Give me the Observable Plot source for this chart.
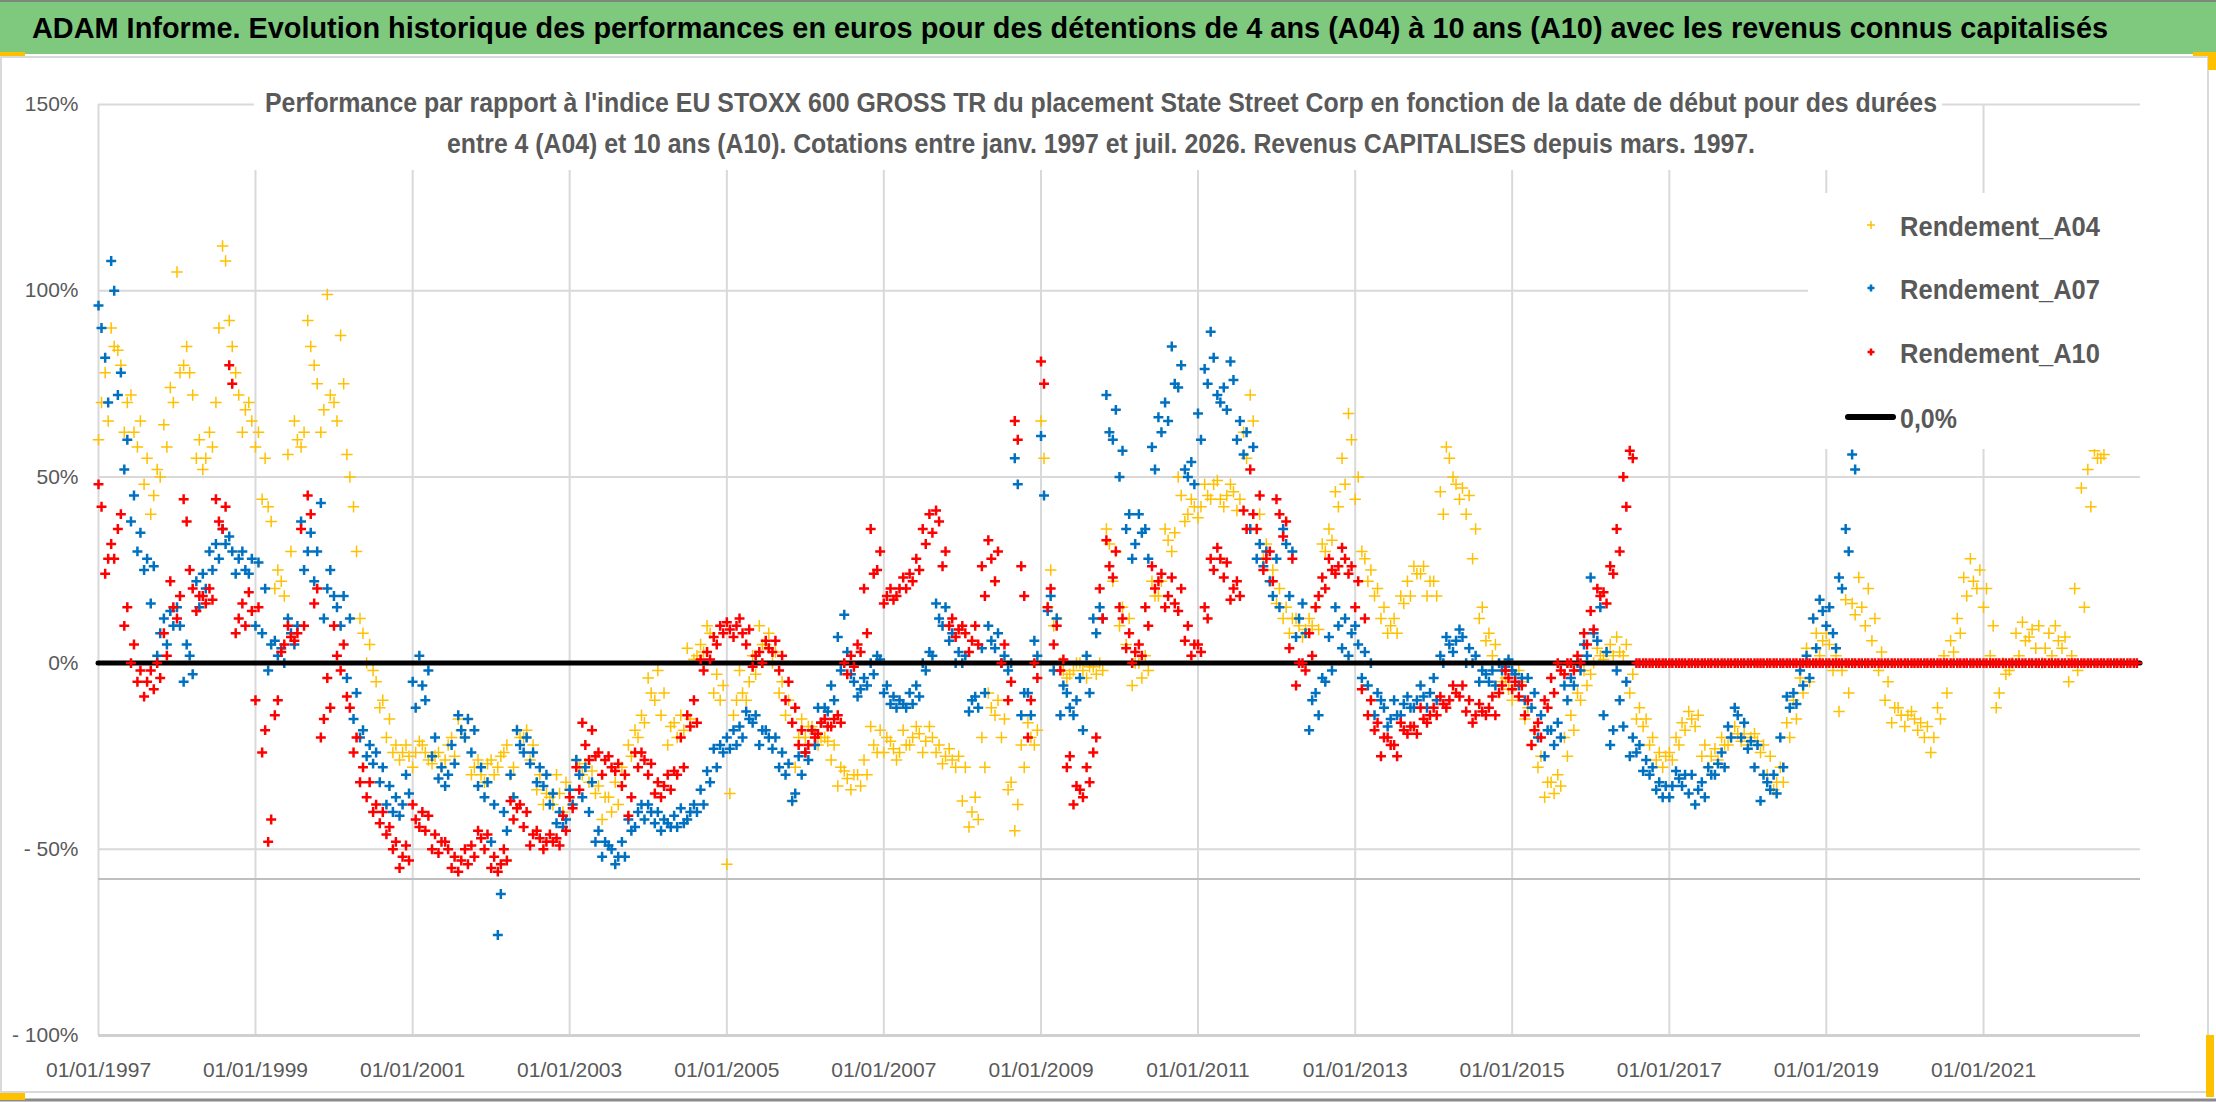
<!DOCTYPE html>
<html>
<head>
<meta charset="utf-8">
<script src="https://cdn.jsdelivr.net/npm/d3@7"></script>
<script src="https://cdn.jsdelivr.net/npm/@observablehq/plot@0.6"></script>
<style>
html, body { margin: 0; padding: 0; background: #fff; }
#wrap { position: relative; width: 2216px; height: 1102px; overflow: hidden; background: #fff; font-family: "Liberation Sans", Arial, sans-serif; }
#wrap > * { position: absolute; }
</style>
</head>
<body>
<div id="wrap"></div>
<script>
// ---------- Data: two readings per month (1st and 15th), starting Jan 1997 ----------
const firstMonth = "1997-01-01";

const titleText = "ADAM Informe. Evolution historique des performances en euros pour des détentions de 4 ans (A04) à 10 ans (A10) avec les revenus connus capitalisés";
const subtitleLine1 = "Performance par rapport à l'indice EU STOXX 600 GROSS TR  du placement State Street Corp en fonction de la date de début pour des durées";
const subtitleLine2 = "entre 4 (A04) et 10 ans (A10). Cotations entre janv. 1997 et juil. 2026. Revenus CAPITALISES depuis mars. 1997.";

const seriesNames = ["Rendement_A04", "Rendement_A07", "Rendement_A10"];
const zeroLineName = "0,0%";

const xTickLabels = ["1997-01-01","1999-01-01","2001-01-01","2003-01-01","2005-01-01","2007-01-01","2009-01-01","2011-01-01","2013-01-01","2015-01-01","2017-01-01","2019-01-01","2021-01-01"];
const xDomain = ["1997-01-01", "2023-01-01"];
const yTicks = [-100, -50, 0, 50, 100, 150];
const horizontalAxisAt = -58;

// Rendement_A04, value around the 15th of each month
const a04 = [
  70, 65, 85, 80, 70, 62, 65, 55, 45, 50, 58, 70,          // 1997
  78, 85, 72, 60, 55, 58, 90, 108, 85, 72, 68, 65,         // 1998
  62, 55, 38, 25, 18, 30, 60, 62, 85, 75, 68, 72,          // 1999
  65, 75, 50, 30, 8, 5, -5, -10, -15, -22, -24, -25,       // 2000
  -24, -22, -26, -25, -28, -22, -25, -18, -15, -28, -30, -27, // 2001
  -30, -25, -22, -28, -20, -18, -22, -30, -35, -38, -35, -32, // 2002
  -38, -28, -27, -29, -33, -36, -40, -38, -30, -25, -20, -16, // 2003
  -8, -2, -8, -17, -20, -18, -15, 2, 3, 8, -3, -6,          // 2004
  -35, -10, -8, -5, -3, 5, 8, 3, -5, -10, -28, -15,         // 2005
  -17, -19, -20, -21, -22, -28, -31, -30, -33, -30, -22, -18, // 2006
  -20, -23, -24, -22, -20, -19, -21, -20, -22, -25, -26, -25, // 2007
  -28, -40, -42, -28, -12, -10, -15, -32, -38, -28, -20, -18, // 2008
  55, 25, 12, -2, -3, 0, -2, -1, -3, -2, 32, 30,            // 2009
  15, 12, 0, -4, -2, 18, 22, 33, 35, 45, 40, 42,            // 2010
  42, 45, 48, 44, 45, 46, 44, 55, 65, 40, 32, 25,           // 2011
  20, 15, 12, 10, 9, 10, 9, 30, 33, 42, 48, 60,             // 2012
  50, 28, 25, 20, 15, 10, 8, 16, 18, 24, 26, 22,            // 2013
  18, 40, 55, 48, 47, 45, 36, 15, 8, 5, -5, -7,             // 2014
  -6, -5, -12, -18, -25, -32, -35, -33, -25, -18, -10, -6,  // 2015
  0, 2, 3, 2, 3, 5, -3, -12, -15, -20, -24, -25,            // 2016
  -26, -22, -18, -15, -14, -22, -25, -26, -22, -20, -19, -19, // 2017
  -20, -21, -22, -25, -32, -32, -20, -15, -8, -5, 8, 6,     // 2018
  5, 2, -2, -8, 13, 15, 20, 12, 3, -5, -12, -14,            // 2019
  -14, -15, -16, -17, -20, -15, -8, 3, 8, 18, 22, 25,       // 2020
  20, 10, -8, -3, 0, 2, 6, 9, 10, 4, 2, 6,                  // 2021
  7, 2, -2, 15, 42, 55, 56                                  // 2022
];
// Rendement_A04, value around the 1st of each month
const a04Early = [
  60, 78, 90, 84, 62, 72, 58, 48, 40, 52, 64, 74,           // 1997
  105, 80, 78, 55, 52, 62, 70, 112, 92, 78, 62, 70,         // 1998
  58, 44, 42, 20, 22, 56, 65, 58, 92, 80, 62, 99,           // 1999
  70, 88, 56, 42, 12, 0, -2, -12, -20, -24, -26, -22,       // 2000
  -28, -21, -24, -27, -24, -26, -20, -15, -20, -30, -26, -32, // 2001
  -26, -28, -24, -30, -18, -20, -26, -34, -38, -36, -30, -40, // 2002
  -34, -26, -30, -32, -35, -42, -36, -32, -28, -22, -18, -14, // 2003
  -4, -10, -14, -22, -16, -14, 4, 1, 5, 10, -8, -10,        // 2004
  -54, -14, -2, -10, 2, 10, 5, 0, -8, -14, -37, -20,        // 2005
  -20, -17, -22, -20, -26, -33, -29, -34, -30, -26, -17, -24, // 2006
  -24, -21, -26, -18, -22, -17, -24, -17, -24, -27, -23, -28, // 2007
  -37, -44, -36, -20, -8, -14, -20, -34, -45, -22, -16, -22, // 2008
  65, 15, 10, 0, -4, -2, 0, -4, -1, 0, 36, 22,              // 2009
  10, 5, -6, 0, 2, 22, 18, 36, 30, 50, 38, 44,              // 2010
  39, 48, 44, 49, 42, 48, 41, 62, 72, 36, 28, 22,           // 2011
  16, 12, 8, 12, 7, 12, 15, 32, 36, 46, 55, 67,             // 2012
  44, 30, 22, 18, 12, 8, 12, 18, 22, 26, 24, 18,            // 2013
  22, 46, 58, 50, 44, 40, 28, 12, 6, 2, -8, -4,             // 2014
  -10, -2, -15, -22, -28, -36, -32, -30, -20, -14, -8, -2,  // 2015
  -3, 4, 1, 5, 7, 2, -8, -15, -17, -22, -26, -28,           // 2016
  -24, -20, -16, -13, -17, -25, -28, -23, -20, -22, -17, -21, // 2017
  -22, -19, -24, -30, -34, -28, -16, -10, -4, 4, 12, 2,     // 2018
  8, -2, -13, 17, 16, 23, 10, 6, -2, -10, -16, -12,         // 2019
  -17, -13, -18, -20, -24, -12, 2, 6, 12, 23, 28, 20,       // 2020
  15, 2, -12, 0, -2, 8, 11, 7, 4, 0, 8, 10,                 // 2021
  4, -5, 20, 47, 52, 57, 55                                 // 2022
];

// Rendement_A07
const a07 = [
  90, 70, 100, 78, 60, 45, 35, 28, 26, 8, 5, 10,            // 1997
  10, 5, -3, 15, 20, 25, 28, 32, 30, 28, 25, 28,            // 1998
  27, 20, 5, 2, 0, 8, 10, 25, 35, 30, 12, 25,               // 1999
  15, 18, 12, -8, -18, -22, -24, -28, -33, -36, -38, -35,   // 2000
  -12, -6, -2, -20, -28, -30, -27, -18, -15, -18, -28, -32, // 2001
  -38, -62, -45, -36, -22, -20, -24, -28, -30, -35, -40, -42, // 2002
  -38, -30, -28, -32, -45, -48, -50, -52, -52, -45, -40, -42, // 2003
  -40, -40, -42, -44, -44, -43, -40, -40, -38, -32, -28, -24, // 2004
  -23, -22, -20, -15, -14, -18, -20, -20, -24, -27, -35, -30, // 2005
  -26, -22, -16, -13, -10, -2, 3, -5, -7, -6, -3, 1,        // 2006
  -6, -9, -10, -12, -11, -9, -2, 2, 12, 15, 8, 3,           // 2007
  2, -10, -12, -8, 6, 8, 2, 0, 48, -8, -14, 2,              // 2008
  45, 18, 12, -6, -12, -10, -18, -8, 8, 12, 62, 68,         // 2009
  57, 40, 32, 35, 28, 52, 62, 65, 75, 80, 50, 48,           // 2010
  60, 75, 82, 70, 68, 76, 65, 62, 58, 32, 30, 18,           // 2011
  15, 32, 30, 12, 8, -10, -14, -5, -2, 10, 12, 8,           // 2012
  5, 3, 0, -8, -12, -15, -14, -11, -12, -10, -9, -8,        // 2013
  -10, 0, 5, 6, 7, 4, 2, -2, -5, -6, -2, 1,                 // 2014
  -3, -4, -4, -8, -14, -18, -22, -20, -10, -6, -2, 2,       // 2015
  8, 15, 3, -18, -10, -5, -20, -22, -26, -28, -32, -33,     // 2016
  -33, -31, -30, -30, -34, -36, -30, -27, -28, -20, -14, -16, // 2017
  -21, -22, -30, -34, -35, -28, -12, -11, -6, -4, 4, 14,    // 2018
  15, 4, 20, 30, 52                                         // 2019
];
const a07Early = [
  96, 82, 108, 72, 52, 38, 30, 25, 16, 2, 12, 14,           // 1997
  15, -5, 2, 22, 24, 30, 32, 36, 34, 24, 30, 24,            // 1998
  10, 8, -2, 6, 4, 12, 5, 38, 30, 22, 43, 20,               // 1999
  18, 10, -4, -15, -20, -25, -27, -32, -38, -40, -41, -30,  // 2000
  -5, 2, -10, -25, -31, -33, -22, -14, -20, -24, -33, -36,  // 2001
  -48, -73, -40, -30, -18, -24, -27, -32, -33, -38, -43, -44, // 2002
  -34, -26, -36, -40, -48, -52, -49, -54, -48, -42, -44, -38, // 2003
  -38, -43, -45, -43, -41, -39, -42, -38, -34, -29, -23, -22, // 2004
  -20, -18, -17, -13, -16, -22, -18, -23, -28, -30, -37, -25, // 2005
  -24, -18, -12, -12, -6, 7, 13, -3, -9, -4, 0, 2,          // 2006
  -8, -11, -12, -11, -8, -6, 0, 3, 16, 10, 6, 0,            // 2007
  0, -13, -9, 4, 10, 4, 0, -2, 55, -14, -8, 6,              // 2008
  61, 14, -2, -14, -8, -14, -4, 2, 12, 15, 72, 60,          // 2009
  50, 36, 28, 40, 36, 58, 66, 70, 85, 74, 52, 54,           // 2010
  67, 79, 89, 72, 74, 81, 60, 56, 36, 28, 26, 22,           // 2011
  28, 36, 18, 7, 16, -18, -8, -4, 7, 15, 4, 2,              // 2012
  10, -4, -6, -14, -10, -17, -10, -14, -9, -12, -6, -12,    // 2013
  -4, 2, 7, 3, 9, 0, 0, -5, -3, -2, 0, -1,                  // 2014
  -2, -6, -10, -12, -20, -25, -18, -16, -6, -4, 0, 5,       // 2015
  23, 6, -14, -22, -2, -17, -25, -24, -29, -30, -34, -36,   // 2016
  -36, -29, -33, -35, -38, -32, -28, -30, -24, -17, -12, -20, // 2017
  -23, -28, -37, -32, -30, -20, -9, -8, -2, 2, 12, 17,      // 2018
  10, 8, 23, 36, 56                                         // 2019
];

// Rendement_A10 (0 once the 10-year horizon is no longer available)
const a10 = [
  42, 28, 28, 40, 15, 5, -2, -5, -7, -4, 2, 15,             // 1997
  18, 38, 20, 18, 16, 17, 38, 42, 75, 12, 10, 14,           // 1998
  15, -18, -42, -10, 5, 7, 8, 10, 40, 20, -15, -12,         // 1999
  2, 5, -12, -20, -28, -32, -38, -40, -44, -48, -52, -53,   // 2000
  -42, -40, -41, -46, -48, -50, -52, -53, -54, -52, -47, -46, // 2001
  -52, -54, -53, -42, -38, -40, -46, -47, -48, -48, -49, -45, // 2002
  -39, -34, -22, -18, -24, -26, -28, -27, -30, -36, -28, -26, // 2003
  -27, -32, -33, -34, -30, -28, -17, -16, -2, 1, 5, 8,      // 2004
  9, 10, 8, 9, 2, 0, 4, 6, 2, -5, -12, -18,                 // 2005
  -22, -20, -16, -17, -15, -16, -3, -1, 3, 8, 24, 30,       // 2006
  18, 17, 20, 20, 22, 25, 32, 35, 38, 30, 12, 9,            // 2007
  8, 6, 5, 18, 28, 30, 5, -5, 60, 18, -10, -4,              // 2008
  75, 20, 10, 1, -25, -33, -36, -32, -20, 12, 26, 30,       // 2009
  12, 8, 3, 2, 10, 20, 24, 18, 16, 20, 10, 5,               // 2010
  3, 12, 25, 28, 27, 20, 18, 36, 40, 45, 28, 22,            // 2011
  40, 38, 28, 0, -2, 2, 18, 20, 25, 26, 28, 26,             // 2012
  22, 12, -10, -16, -20, -22, -25, -18, -17, -19, -15, -14, // 2013
  -14, -11, -10, -8, -6, -10, -14, -13, -12, -14, -6, -4,   // 2014
  -5, -6, -10, -18, -20, -12, -8, -2, 0, -2, 0, 5,          // 2015
  9, 18, 16, 24, 30, 42, 55, 0, 0, 0, 0, 0,                 // 2016
  0, 0, 0, 0, 0, 0, 0, 0, 0, 0, 0, 0,                       // 2017
  0, 0, 0, 0, 0, 0, 0, 0, 0, 0, 0, 0,                       // 2018
  0, 0, 0, 0, 0, 0, 0, 0, 0, 0, 0, 0,                       // 2019
  0, 0, 0, 0, 0, 0, 0, 0, 0, 0, 0, 0,                       // 2020
  0, 0, 0, 0, 0, 0, 0, 0, 0, 0, 0, 0,                       // 2021
  0, 0, 0, 0, 0, 0, 0, 0, 0, 0, 0, 0                        // 2022
];
const a10Early = [
  48, 24, 32, 36, 10, 0, -5, -9, -2, 0, 8, 22,              // 1997
  12, 44, 25, 14, 18, 20, 44, 36, 80, 8, 16, 19,            // 1998
  -10, -24, -48, -14, 3, 10, 6, 36, 45, 16, -20, -4,        // 1999
  10, -2, -9, -24, -32, -36, -40, -43, -46, -50, -55, -49,  // 2000
  -38, -44, -45, -50, -51, -48, -55, -56, -50, -49, -45, -50, // 2001
  -55, -56, -50, -37, -39, -44, -49, -45, -50, -46, -47, -41, // 2002
  -36, -28, -16, -26, -25, -30, -25, -29, -33, -41, -24, -24, // 2003
  -30, -35, -36, -30, -29, -20, -14, -10, 1, 3, 7, 10,      // 2004
  11, 7, 12, 5, -1, 3, 6, 3, -2, -10, -16, -22,             // 2005
  -24, -18, -19, -15, -17, -14, 0, 2, 5, 20, 36, 25,        // 2006
  16, 20, 18, 23, 24, 28, 36, 40, 41, 26, 10, 7,            // 2007
  10, 3, 10, 26, 33, 22, 0, -10, 65, 26, -20, 0,            // 2008
  81, 15, 5, -2, -28, -38, -34, -28, -24, 20, 33, 23,       // 2009
  15, 4, 0, 5, 15, 26, 22, 15, 23, 14, 6, 2,                // 2010
  5, 15, 28, 31, 23, 17, 22, 41, 52, 36, 25, 30,            // 2011
  44, 34, 4, -6, 0, 8, 15, 23, 28, 24, 31, 24,              // 2012
  15, -7, -14, -18, -25, -20, -22, -16, -19, -17, -12, -16, // 2013
  -12, -9, -12, -6, -9, -13, -16, -11, -14, -9, -8, -2,     // 2014
  -7, -9, -14, -22, -16, -10, -4, 0, -3, 0, 2, 8,           // 2015
  14, 20, 19, 26, 36, 50, 57, 0, 0, 0, 0, 0,                // 2016
  0, 0, 0, 0, 0, 0, 0, 0, 0, 0, 0, 0,                       // 2017
  0, 0, 0, 0, 0, 0, 0, 0, 0, 0, 0, 0,                       // 2018
  0, 0, 0, 0, 0, 0, 0, 0, 0, 0, 0, 0,                       // 2019
  0, 0, 0, 0, 0, 0, 0, 0, 0, 0, 0, 0,                       // 2020
  0, 0, 0, 0, 0, 0, 0, 0, 0, 0, 0, 0,                       // 2021
  0, 0, 0, 0, 0, 0, 0, 0, 0, 0, 0, 0                        // 2022
];

const colors = {A04: "#FFC000", A07: "#0070C0", A10: "#FF0000"};

// ---------- Build ----------
const start = new Date(firstMonth);
function series(mid, early, name) {
  const rows = [];
  early.forEach((v, i) => rows.push({date: d3.utcMonth.offset(start, i), value: v, serie: name}));
  mid.forEach((v, i) => rows.push({date: d3.utcDay.offset(d3.utcMonth.offset(start, i), 14), value: v, serie: name}));
  return rows.sort((a, b) => a.date - b.date);
}
const dA04 = series(a04, a04Early, seriesNames[0]);
const dA07 = series(a07, a07Early, seriesNames[1]);
const dA10 = series(a10, a10Early, seriesNames[2]);
const xTicks = xTickLabels.map(s => new Date(s));
const x0 = new Date(xDomain[0]), x1 = new Date(xDomain[1]);
const pct = d => d < 0 ? "- " + Math.abs(d) + "%" : d + "%";

const W = 2216, H = 1102;
const FONT = "'Liberation Sans', Arial, sans-serif";
const wrap = document.getElementById("wrap");

const chart = Plot.plot({
  width: W, height: H,
  marginTop: 104, marginBottom: 67, marginLeft: 98, marginRight: 76,
  style: {fontFamily: FONT, fontSize: "21px", color: "#595959", background: "transparent"},
  x: {type: "utc", domain: [x0, x1], ticks: xTicks, tickFormat: d3.utcFormat("%d/%m/%Y"), tickSize: 0, tickPadding: 27, label: null},
  y: {domain: [yTicks[0], yTicks[yTicks.length - 1]], ticks: yTicks, tickFormat: pct, tickSize: 0, tickPadding: 20, label: null},
  marks: [
    Plot.ruleX(xTicks, {stroke: "#d9d9d9", strokeWidth: 2}),
    Plot.ruleY(yTicks.filter(d => d > -100), {stroke: "#d9d9d9", strokeWidth: 2}),
    Plot.ruleY([-100], {stroke: "#d0d0d0", strokeWidth: 3}),
    Plot.ruleY([horizontalAxisAt], {stroke: "#bfbfbf", strokeWidth: 2}),
    Plot.dot(dA04, {x: "date", y: "value", symbol: "plus", r: 3.8, stroke: colors.A04, strokeWidth: 1.5}),
    Plot.dot(dA07, {x: "date", y: "value", symbol: "plus", r: 3.3, stroke: colors.A07, strokeWidth: 2.5}),
    Plot.ruleY([0], {x1: () => x0, x2: () => x1, stroke: "#000", strokeWidth: 5, strokeLinecap: "round"}),
    Plot.dot(dA10, {x: "date", y: "value", symbol: "plus", r: 3.3, stroke: colors.A10, strokeWidth: 2.5})
  ]
});
chart.style.left = "0px"; chart.style.top = "0px";
wrap.appendChild(chart);

const NS = "http://www.w3.org/2000/svg";
function svgEl(tag, attrs, parent) {
  const e = document.createElementNS(NS, tag);
  for (const k in attrs) e.setAttribute(k, attrs[k]);
  if (parent) parent.appendChild(e);
  return e;
}
const ov = svgEl("svg", {width: W, height: H, viewBox: `0 0 ${W} ${H}`});
ov.style.left = "0px"; ov.style.top = "0px";
wrap.appendChild(ov);
function label(txt, x, y, size, weight, fill, len) {
  const t = svgEl("text", {x, y, "font-size": size, "font-weight": weight, fill, "font-family": FONT, textLength: len, lengthAdjust: "spacingAndGlyphs"}, ov);
  t.textContent = txt;
  return t;
}

// Chart frame / borders
svgEl("rect", {x: 1, y: 57, width: 2207, height: 1035, fill: "none", stroke: "#d9d9d9", "stroke-width": 2}, ov);
svgEl("line", {x1: 0, y1: 1100, x2: W, y2: 1100, stroke: "#8a8a8a", "stroke-width": 3}, ov);

// Subtitle (white box hides gridlines behind it)
svgEl("rect", {x: 254, y: 58, width: 1688, height: 112, fill: "#fff"}, ov);
label(subtitleLine1, 265, 112, 27, "bold", "#595959", 1672);
label(subtitleLine2, 447, 153, 27, "bold", "#595959", 1308);

// Legend
svgEl("rect", {x: 1808, y: 193, width: 345, height: 256, fill: "#fff"}, ov);
const rows = [225, 288, 352, 417];
const legColors = [colors.A04, colors.A07, colors.A10];
const legWidths = [1.5, 2.5, 2.5];
const legArm = [4, 3.5, 3.5];
seriesNames.forEach((name, i) => {
  const a = legArm[i];
  svgEl("path", {d: `M${1871 - a},${rows[i]}H${1871 + a}M1871,${rows[i] - a}V${rows[i] + a}`, stroke: legColors[i], "stroke-width": legWidths[i], fill: "none"}, ov);
  label(name, 1900, rows[i] + 10.5, 28, "bold", "#595959", 200);
});
svgEl("line", {x1: 1848, y1: rows[3], x2: 1893, y2: rows[3], stroke: "#000", "stroke-width": 6, "stroke-linecap": "round"}, ov);
label(zeroLineName, 1900, rows[3] + 10.5, 28, "bold", "#595959", 57);

// Title band
svgEl("rect", {x: 0, y: 0, width: W, height: 54, fill: "#7FC97F"}, ov);
svgEl("line", {x1: 0, y1: 1, x2: W, y2: 1, stroke: "#7a8a7a", "stroke-width": 2}, ov);
label(titleText, 32, 38, 30, "bold", "#000", 2076);

// Selection handles (yellow corner marks)
[[0, 52, 25, 4], [2193, 52, 23, 4], [2208, 52, 8, 18], [0, 1093, 25, 7], [2206, 1035, 8, 62]].forEach(([x, y, w, h]) =>
  svgEl("rect", {x, y, width: w, height: h, fill: "#FFC000"}, ov));
</script>
</body>
</html>
